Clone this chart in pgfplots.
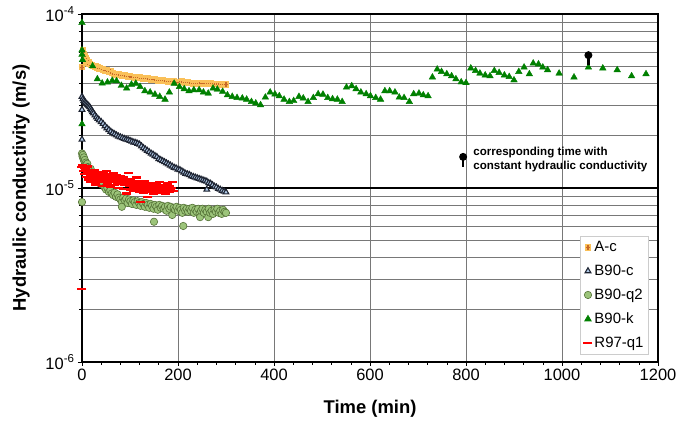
\documentclass[border=0pt]{standalone}
\usepackage{fontspec}
\setmainfont{Liberation Sans}
\usepackage{pgfplots}
\pgfplotsset{compat=1.18}

\definecolor{acfill}{RGB}{250,192,88}
\definecolor{acplus}{RGB}{200,104,40}
\definecolor{bcfill}{RGB}{178,204,234}
\definecolor{bcdraw}{RGB}{30,36,50}
\definecolor{bqfill}{RGB}{156,196,122}
\definecolor{bqdraw}{RGB}{84,114,54}
\definecolor{bkgreen}{RGB}{0,128,0}
\definecolor{gridgray}{RGB}{120,120,120}

% filled square with a plus on top
\pgfdeclareplotmark{sqplus}{%
  \pgfsetfillcolor{acfill}%
  \pgfpathrectangle{\pgfpoint{-\pgfplotmarksize}{-\pgfplotmarksize}}{\pgfpoint{2\pgfplotmarksize}{2\pgfplotmarksize}}%
  \pgfusepathqfill
  \pgfsetstrokecolor{acplus}%
  \pgfsetlinewidth{1.2bp}%
  \pgfpathmoveto{\pgfpoint{-0.75\pgfplotmarksize}{0pt}}%
  \pgfpathlineto{\pgfpoint{0.75\pgfplotmarksize}{0pt}}%
  \pgfpathmoveto{\pgfpoint{0pt}{-0.75\pgfplotmarksize}}%
  \pgfpathlineto{\pgfpoint{0pt}{0.75\pgfplotmarksize}}%
  \pgfusepathqstroke}

% round head on a short stem
\pgfdeclareplotmark{pin}{%
  \pgfpathrectangle{\pgfpoint{-1.3bp}{-10bp}}{\pgfpoint{2.6bp}{10bp}}%
  \pgfusepathqfill
  \pgfpathcircle{\pgfpointorigin}{4bp}%
  \pgfusepathqfill}

\begin{document}
\begin{tikzpicture}
\begin{axis}[
  name=main,
  scale only axis, width=576bp, height=348bp,
  xmin=0, xmax=1200, ymin=1e-6, ymax=1e-4, ymode=log,
  clip=false,
  xtick={0,200,...,1200}, minor x tick num=4,
  ytick={1e-6,1e-5,1e-4},
  yticklabels={10\textsuperscript{-6},10\textsuperscript{-5},10\textsuperscript{-4}},
  minor ytick={2e-6,3e-6,4e-6,5e-6,6e-6,7e-6,8e-6,9e-6,2e-5,3e-5,4e-5,5e-5,6e-5,7e-5,8e-5,9e-5},
  xmajorgrids, ymajorgrids, yminorgrids,
  major x grid style={gridgray, line width=0.6bp},
  minor y grid style={gridgray, line width=0.6bp},
  major y grid style={black, line width=1.6bp},
  axis line style={black, line width=1.6bp},
  tick align=outside, xtick pos=bottom, ytick pos=left,
  major tick length=4bp, minor tick length=3bp,
  tick style={black, line width=0.6bp},
  ticklabel style={font=\fontsize{16.5}{18}\selectfont},
  /pgf/number format/assume math mode=true,
  /pgf/number format/1000 sep={},
  xlabel={Time (min)}, ylabel={Hydraulic conductivity (m/s)},
  label style={font=\bfseries\fontsize{18.5}{21}\selectfont},
  xlabel shift=12bp, ylabel shift=9bp,
  legend style={at={(0.984,0.362)}, anchor=north east, draw=gray!40,
    line width=0.6bp, fill=white, font=\fontsize{15}{17}\selectfont,
    inner xsep=3bp, inner ysep=3bp, row sep=8bp, cells={anchor=west}},
  legend image code/.code={\draw[mark repeat=2,mark phase=2,#1] plot coordinates {(0cm,0cm) (0.13cm,0cm) (0.26cm,0cm)};},
]

% A-c
\addplot[only marks, mark=sqplus, mark size=3.3bp] coordinates {
(0,4.95e-5)(2,6.2e-5)(4,5.9e-5)(6,5.7e-5)(8,5.55e-5)(10,5.4e-5)(13,5.25e-5)(16,5.15e-5)
(20,5.08e-5)(24,5.02e-5)(28,4.98e-5)(32,4.93e-5)(36,4.88e-5)(40,4.84e-5)(44,4.80e-5)
(48,4.75e-5)(52,4.72e-5)(56,4.69e-5)(60,4.66e-5)(64,4.58e-5)(68,4.52e-5)(72,4.50e-5)
(76,4.48e-5)(80,4.46e-5)(84,4.44e-5)(88,4.42e-5)(92,4.40e-5)(96,4.38e-5)(100,4.37e-5)
(104,4.35e-5)(108,4.34e-5)(112,4.33e-5)(116,4.31e-5)(120,4.30e-5)(124,4.28e-5)
(128,4.27e-5)(132,4.26e-5)(136,4.25e-5)(140,4.23e-5)(144,4.22e-5)(148,4.21e-5)
(152,4.19e-5)(156,4.18e-5)(160,4.16e-5)(164,4.15e-5)(168,4.14e-5)(172,4.13e-5)
(176,4.12e-5)(180,4.11e-5)(184,4.10e-5)(188,4.09e-5)(192,4.08e-5)(196,4.06e-5)
(200,4.05e-5)(204,4.06e-5)(208,4.08e-5)(212,4.07e-5)(216,4.05e-5)(220,4.04e-5)
(224,4.02e-5)(228,4.01e-5)(232,4.00e-5)(236,4.00e-5)(240,3.99e-5)(244,3.99e-5)
(248,4.01e-5)(252,4.00e-5)(256,3.99e-5)(260,3.99e-5)(264,3.98e-5)(268,3.98e-5)
(272,3.97e-5)(276,3.97e-5)(280,3.96e-5)(284,3.96e-5)(288,3.96e-5)(292,3.95e-5)
(296,3.95e-5)(300,3.95e-5)
};
\addlegendentry{A-c}

% B90-c
\addplot[only marks, mark=triangle*, mark size=3.3bp,
  mark options={fill=bcfill, draw=bcdraw, line width=1.1bp}] coordinates {
(0,3.35e-5)(0,2.82e-5)(0,1.90e-5)(2,3.25e-5)(4,3.18e-5)(6,3.12e-5)(8,3.08e-5)(10,3.04e-5)
(12,3.00e-5)(14,2.96e-5)(16,2.92e-5)(18,2.86e-5)(20,2.80e-5)(22,2.74e-5)(24,2.69e-5)
(27,2.62e-5)(30,2.55e-5)(33,2.50e-5)(36,2.45e-5)(40,2.40e-5)(44,2.34e-5)(48,2.27e-5)
(52,2.21e-5)(56,2.16e-5)(60,2.11e-5)(64,2.07e-5)(68,2.04e-5)(72,2.01e-5)(76,1.98e-5)
(80,1.96e-5)(84,1.94e-5)(88,1.92e-5)(92,1.90e-5)(96,1.89e-5)(100,1.87e-5)(104,1.85e-5)
(108,1.83e-5)(112,1.82e-5)(116,1.80e-5)(120,1.78e-5)(124,1.74e-5)(128,1.70e-5)
(132,1.67e-5)(136,1.64e-5)(140,1.61e-5)(144,1.58e-5)(148,1.56e-5)(152,1.53e-5)
(156,1.51e-5)(160,1.47e-5)(164,1.45e-5)(168,1.43e-5)(172,1.41e-5)(176,1.39e-5)
(180,1.37e-5)(184,1.35e-5)(188,1.33e-5)(192,1.31e-5)(196,1.30e-5)(200,1.28e-5)
(204,1.27e-5)(208,1.25e-5)(212,1.23e-5)(216,1.21e-5)(220,1.20e-5)(224,1.19e-5)
(228,1.17e-5)(232,1.16e-5)(236,1.15e-5)(240,1.14e-5)(244,1.13e-5)(248,1.12e-5)
(252,1.11e-5)(256,1.10e-5)(260,1.09e-5)(264,1.07e-5)(268,1.06e-5)(272,1.04e-5)
(276,1.02e-5)(280,1.01e-5)(284,0.99e-5)(288,0.98e-5)(292,0.965e-5)(296,0.955e-5)
(300,0.945e-5)(260,0.98e-5)
};
\addlegendentry{B90-c}

% B90-q2
\addplot[only marks, mark=*, mark size=3.7bp,
  mark options={fill=bqfill, draw=bqdraw, line width=0.6bp}] coordinates {
(0,1.58e-5)(0,0.83e-5)(1,1.52e-5)(2,1.55e-5)(3,1.47e-5)(4,1.50e-5)(5,1.42e-5)(6,1.45e-5)
(8,1.40e-5)(9,1.36e-5)(11,1.38e-5)(12,1.32e-5)(14,1.30e-5)(16,1.27e-5)(18,1.29e-5)
(20,1.23e-5)(22,1.20e-5)(24,1.18e-5)(26,1.21e-5)(28,1.14e-5)(30,1.12e-5)(33,1.10e-5)
(36,1.13e-5)(38,1.06e-5)(41,1.05e-5)(44,1.07e-5)(47,1.01e-5)(50,0.98e-5)(53,1.00e-5)
(56,0.95e-5)(59,0.97e-5)(62,0.93e-5)(65,0.91e-5)(68,0.94e-5)(71,0.89e-5)(74,0.92e-5)
(77,0.88e-5)(80,0.86e-5)(83,0.83e-5)(83,0.78e-5)(86,0.88e-5)(89,0.85e-5)(92,0.87e-5)
(95,0.82e-5)(98,0.86e-5)(101,0.84e-5)(104,0.81e-5)(107,0.85e-5)(110,0.83e-5)
(113,0.80e-5)(116,0.84e-5)(119,0.82e-5)(122,0.79e-5)(125,0.83e-5)(128,0.81e-5)
(131,0.78e-5)(134,0.82e-5)(137,0.80e-5)(140,0.77e-5)(143,0.81e-5)(146,0.79e-5)
(150,0.64e-5)(149,0.76e-5)(152,0.80e-5)(155,0.78e-5)(158,0.75e-5)(161,0.80e-5)
(164,0.77e-5)(167,0.79e-5)(170,0.76e-5)(173,0.78e-5)(176,0.74e-5)(179,0.79e-5)
(182,0.76e-5)(185,0.78e-5)(188,0.70e-5)(191,0.77e-5)(194,0.75e-5)(197,0.78e-5)
(200,0.74e-5)(203,0.77e-5)(206,0.75e-5)(209,0.72e-5)(211,0.605e-5)(212,0.77e-5)
(215,0.74e-5)(218,0.76e-5)(221,0.73e-5)(224,0.76e-5)(227,0.74e-5)(230,0.77e-5)
(233,0.72e-5)(236,0.75e-5)(239,0.73e-5)(242,0.76e-5)(245,0.71e-5)(246,0.68e-5)
(248,0.74e-5)(251,0.76e-5)(254,0.72e-5)(257,0.75e-5)(260,0.73e-5)(263,0.68e-5)
(264,0.76e-5)(267,0.72e-5)(270,0.74e-5)(273,0.71e-5)(276,0.75e-5)(279,0.73e-5)
(282,0.76e-5)(285,0.72e-5)(288,0.74e-5)(291,0.71e-5)(294,0.75e-5)(297,0.73e-5)
(300,0.72e-5)
};
\addlegendentry{B90-q2}

% B90-k
\addplot[only marks, mark=triangle*, mark size=3.8bp, color=bkgreen] coordinates {
(0,8.9e-5)(0,6.2e-5)(0,5.85e-5)(1,5.45e-5)(0,2.33e-5)(22,5.02e-5)(32,4.23e-5)(42,4.0e-5)
(53,4.05e-5)(63,4.14e-5)(72,4.12e-5)(82,3.88e-5)(93,3.74e-5)(103,3.94e-5)(112,3.99e-5)
(121,3.82e-5)(131,3.61e-5)(142,3.55e-5)(152,3.45e-5)(162,3.35e-5)(173,3.23e-5)
(182,3.55e-5)(192,3.99e-5)(203,3.82e-5)(213,3.71e-5)(223,3.61e-5)(233,3.66e-5)
(244,3.66e-5)(253,3.55e-5)(263,3.5e-5)(273,3.74e-5)(282,3.69e-5)(293,3.58e-5)
(303,3.42e-5)(313,3.35e-5)(323,3.3e-5)(334,3.28e-5)(343,3.23e-5)(353,3.13e-5)
(362,3.07e-5)(372,3.0e-5)(382,3.32e-5)(392,3.55e-5)(402,3.46e-5)(411,3.38e-5)
(421,3.23e-5)(432,3.13e-5)(441,3.17e-5)(452,3.35e-5)(461,3.28e-5)(471,3.13e-5)
(482,3.3e-5)(492,3.47e-5)(502,3.45e-5)(512,3.3e-5)(522,3.25e-5)(532,3.23e-5)
(542,3.13e-5)(551,3.79e-5)(562,3.86e-5)(571,3.71e-5)(581,3.55e-5)(592,3.47e-5)
(601,3.38e-5)(612,3.3e-5)(622,3.23e-5)(631,3.61e-5)(641,3.61e-5)(652,3.55e-5)
(661,3.32e-5)(671,3.3e-5)(682,3.13e-5)(691,3.47e-5)(702,3.5e-5)(711,3.42e-5)
(721,3.38e-5)(730,4.33e-5)(740,4.81e-5)(749,4.66e-5)(760,4.52e-5)(770,4.4e-5)
(779,4.23e-5)(790,4.06e-5)(800,4.02e-5)(810,4.88e-5)(820,4.72e-5)(829,4.56e-5)
(840,4.45e-5)(850,4.4e-5)(859,4.72e-5)(869,4.6e-5)(880,4.45e-5)(890,4.36e-5)
(900,4.17e-5)(910,4.66e-5)(921,4.94e-5)(932,4.52e-5)(940,5.21e-5)(951,5.15e-5)
(960,4.94e-5)(970,4.77e-5)(994,4.56e-5)(1025,4.33e-5)(1055,4.94e-5)(1085,4.88e-5)
(1115,4.77e-5)(1145,4.4e-5)(1175,4.52e-5)
};
\addlegendentry{B90-k}

% R97-q1
\addplot[only marks, mark=-, mark size=4.5bp, color=red,
  mark options={line width=2.4bp}] coordinates {
(0,1.32e-5)(0,0.263e-5)(2,1.35e-5)(3,1.25e-5)(5,1.30e-5)(6,1.20e-5)(8,1.28e-5)(9,1.16e-5)
(11,1.33e-5)(12,1.22e-5)(14,1.12e-5)(15,1.26e-5)(17,1.19e-5)(18,1.08e-5)(20,1.24e-5)
(21,1.15e-5)(23,1.21e-5)(24,1.10e-5)(26,1.27e-5)(27,1.18e-5)(29,1.05e-5)(30,1.22e-5)
(32,1.13e-5)(33,1.19e-5)(35,1.08e-5)(36,1.24e-5)(38,1.16e-5)(39,1.11e-5)(41,1.20e-5)
(42,1.03e-5)(44,1.14e-5)(45,1.22e-5)(47,1.09e-5)(48,1.17e-5)(50,1.12e-5)(51,1.25e-5)
(53,1.06e-5)(54,1.15e-5)(56,1.20e-5)(57,1.10e-5)(59,1.02e-5)(60,1.18e-5)(62,1.13e-5)
(63,1.08e-5)(65,1.21e-5)(66,1.12e-5)(68,1.04e-5)(69,1.16e-5)(71,1.10e-5)(72,1.19e-5)
(74,1.07e-5)(75,1.14e-5)(77,1.00e-5)(78,1.11e-5)(80,1.17e-5)(81,1.06e-5)(83,1.13e-5)
(84,1.09e-5)(86,0.99e-5)(87,1.15e-5)(89,1.05e-5)(90,1.12e-5)(92,1.08e-5)(93,0.93e-5)
(95,1.10e-5)(96,1.22e-5)(98,1.03e-5)(99,1.07e-5)(101,1.13e-5)(102,0.98e-5)(104,1.06e-5)
(105,1.10e-5)(107,1.02e-5)(108,0.96e-5)(110,1.08e-5)(111,1.04e-5)(113,1.15e-5)
(114,0.99e-5)(116,1.05e-5)(117,1.10e-5)(119,0.95e-5)(120,1.02e-5)(122,0.83e-5)
(123,1.07e-5)(125,0.97e-5)(126,1.04e-5)(128,1.00e-5)(129,0.94e-5)(131,1.09e-5)
(132,1.03e-5)(134,0.98e-5)(135,1.01e-5)(137,0.89e-5)(138,1.06e-5)(140,0.96e-5)
(141,1.00e-5)(143,1.04e-5)(144,0.95e-5)(146,0.99e-5)(147,1.07e-5)(149,0.93e-5)
(150,1.02e-5)(152,0.97e-5)(153,1.00e-5)(155,1.05e-5)(156,0.94e-5)(158,0.98e-5)
(159,1.01e-5)(161,0.96e-5)(162,1.08e-5)(164,0.99e-5)(165,1.02e-5)(167,0.95e-5)
(168,1.00e-5)(170,0.97e-5)(171,1.04e-5)(173,0.93e-5)(174,0.99e-5)(176,1.01e-5)
(177,0.96e-5)(179,1.06e-5)(180,0.98e-5)(182,0.95e-5)(183,1.02e-5)(185,0.97e-5)
(186,1.00e-5)(188,1.08e-5)(190,0.96e-5)
};
\addlegendentry{R97-q1}

% time of constant conductivity, and its key
\addplot[only marks, mark=pin, color=black, forget plot] coordinates {(1055,5.8e-5)(794,1.51e-5)};
\node[anchor=west, align=left, inner sep=0pt,
  font=\bfseries\fontsize{11.6}{14}\selectfont] at (axis cs:815,1.45e-5)
  {corresponding time with\\constant hydraulic conductivity};
\end{axis}
\pgfresetboundingbox
\path[use as bounding box] ([shift={(-82bp,-59bp)}]main.south west)
  rectangle ([shift={(21bp,14bp)}]main.north east);
\end{tikzpicture}
\end{document}
